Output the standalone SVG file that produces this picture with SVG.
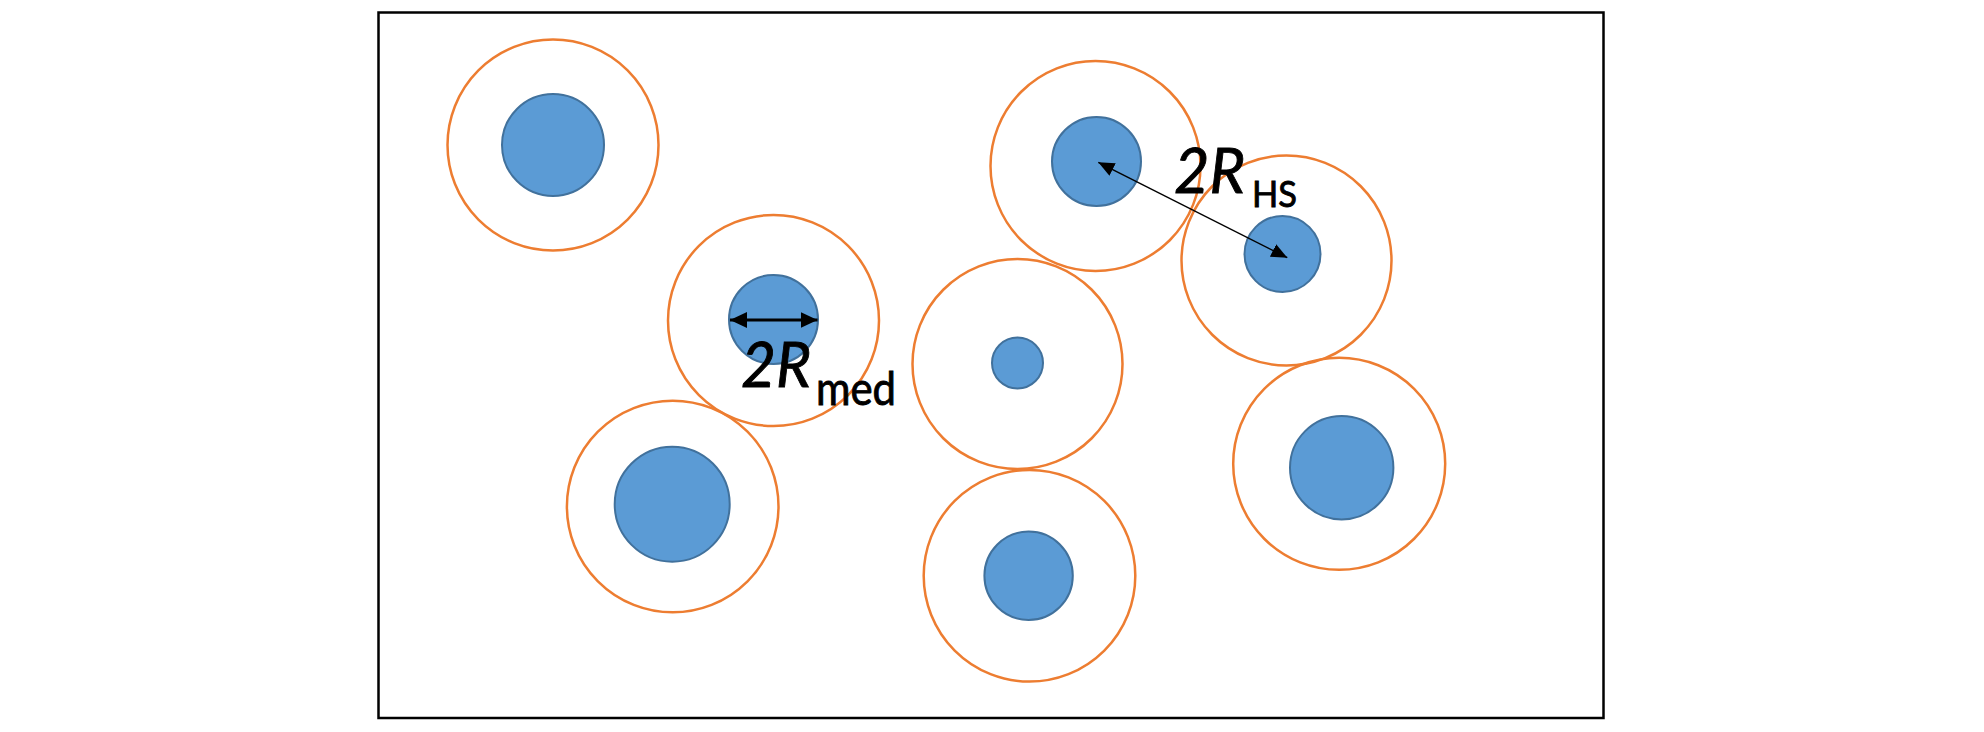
<svg xmlns="http://www.w3.org/2000/svg" width="1984" height="732" viewBox="0 0 1984 732">
<style>
.shell{fill:none;stroke:#ED7D31;stroke-width:2.5}
.core{fill:#5B9BD5;stroke:#41719C;stroke-width:2}
.frame{fill:#fff;stroke:#000;stroke-width:2.5}
.lbl{font-family:Lato,"Open Sans","Liberation Sans",sans-serif;fill:#000;stroke:#000;stroke-width:0.9}
.big{font-size:62px;font-style:italic}
.sub{font-size:47px}
</style>
<defs>
<marker id="ahThin" viewBox="0 0 16 14" refX="16" refY="7" markerWidth="16" markerHeight="14" markerUnits="userSpaceOnUse" orient="auto-start-reverse">
<path d="M0,0 L16,7 L0,14 z" fill="#000"/>
</marker>
<marker id="ahThick" viewBox="0 0 17 16" refX="17" refY="8" markerWidth="17" markerHeight="16" markerUnits="userSpaceOnUse" orient="auto-start-reverse">
<path d="M0,0 L17,8 L0,16 z" fill="#000"/>
</marker>
</defs>
<rect x="0" y="0" width="1984" height="732" fill="#fff"/>
<rect class="frame" x="378.5" y="12.5" width="1225" height="705.5"/>
<g id="particle1"><circle class="shell" cx="553" cy="145" r="105.5"/><path class="core" d="M502,145 a51,51 0 1,0 102,0 a51,51 0 1,0 -102,0 z"/></g>
<g id="particle2"><circle class="shell" cx="773.5" cy="320.5" r="105.5"/><path class="core" d="M729,319.5 a44.5,44.5 0 1,0 89,0 a44.5,44.5 0 1,0 -89,0 z"/></g>
<g id="particle3"><circle class="shell" cx="1095.5" cy="166" r="105"/><path class="core" d="M1052,161.5 a44.5,44.5 0 1,0 89,0 a44.5,44.5 0 1,0 -89,0 z"/></g>
<g id="particle4"><circle class="shell" cx="1286.5" cy="260.5" r="105"/><path class="core" d="M1244.5,254 a38,38 0 1,0 76,0 a38,38 0 1,0 -76,0 z"/></g>
<g id="particle5"><circle class="shell" cx="1017.5" cy="364" r="105"/><path class="core" d="M992,363 a25.5,25.5 0 1,0 51,0 a25.5,25.5 0 1,0 -51,0 z"/></g>
<g id="particle6"><circle class="shell" cx="672.7" cy="506.5" r="105.8"/><path class="core" d="M614.7,504.2 a57.5,57.5 0 1,0 115,0 a57.5,57.5 0 1,0 -115,0 z"/></g>
<g id="particle7"><circle class="shell" cx="1029.5" cy="575.8" r="105.8"/><path class="core" d="M984.4,575.8 a44.2,44.2 0 1,0 88.4,0 a44.2,44.2 0 1,0 -88.4,0 z"/></g>
<g id="particle8"><circle class="shell" cx="1339.2" cy="463.8" r="106"/><path class="core" d="M1290,467.7 a51.7,51.7 0 1,0 103.4,0 a51.7,51.7 0 1,0 -103.4,0 z"/></g>
<g id="connectors">
<line x1="730" y1="320" x2="817.5" y2="320" stroke="#000" stroke-width="3.2" marker-start="url(#ahThick)" marker-end="url(#ahThick)"/>
<line x1="1098.3" y1="162.3" x2="1287.3" y2="257.7" stroke="#000" stroke-width="1.5" marker-start="url(#ahThin)" marker-end="url(#ahThin)"/>
</g>
<g id="label-med">
<text class="lbl big" x="741" y="387" textLength="70" lengthAdjust="spacingAndGlyphs">2R</text>
<text class="lbl sub" x="816" y="405" textLength="80" lengthAdjust="spacingAndGlyphs">med</text>
</g>
<g id="label-hs">
<text class="lbl big" x="1174" y="193" textLength="71" lengthAdjust="spacingAndGlyphs">2R</text>
<text class="lbl sub" x="1252" y="207" style="font-size:37px" textLength="45" lengthAdjust="spacingAndGlyphs">HS</text>
</g>
</svg>
